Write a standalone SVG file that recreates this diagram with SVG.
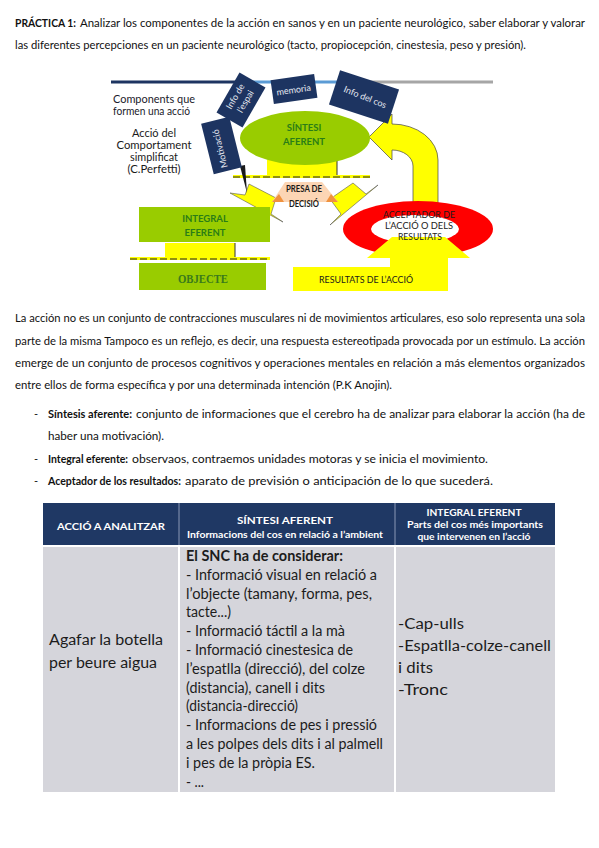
<svg xmlns="http://www.w3.org/2000/svg" width="599" height="848" viewBox="0 0 599 848">
<style>
.p{font-family:Lato,"Liberation Sans",sans-serif;font-size:11px;fill:#111}
.b{font-weight:bold}
.g{font-family:Lato,"Liberation Sans",sans-serif}
.navy{fill:#1d3461}
.nt{font-family:Lato,"Liberation Sans",sans-serif;fill:#e4e7ef;font-size:9px;text-anchor:middle}
.yel{fill:#ffff00}
.grn{fill:#99cc00}
.gt{font-family:Lato,"Liberation Sans",sans-serif;fill:#2a7d17;font-weight:bold;font-size:9.5px;text-anchor:middle}
.dk{font-family:Lato,"Liberation Sans",sans-serif;fill:#1a1a1a;font-size:8.5px;text-anchor:middle}
.th{font-family:Lato,"Liberation Sans",sans-serif;fill:#fff;font-weight:bold;text-anchor:middle}
.tb{font-family:Lato,"Liberation Sans",sans-serif;fill:#1c1c1c;font-size:14.5px}
.cell{fill:#d5d5db}
</style>
<rect width="599" height="848" fill="#fff"/>

<g id="title">
<text class="p b" x="15" y="27" textLength="61" lengthAdjust="spacingAndGlyphs">PRÁCTICA 1:</text>
<text class="p" x="80" y="27" textLength="505" lengthAdjust="spacingAndGlyphs">Analizar los componentes de la acción en sanos y en un paciente neurológico, saber elaborar y valorar</text>
<text class="p" x="15" y="49" textLength="511" lengthAdjust="spacingAndGlyphs">las diferentes percepciones en un paciente neurológico (tacto, propiocepción, cinestesia, peso y presión).</text>
</g>

<g id="topline">
<rect x="111" y="80.5" width="140" height="3" fill="#1d3461"/>
<rect x="251" y="80.5" width="95" height="3" fill="#5b9bd5"/>
<rect x="346" y="80.5" width="147" height="3" fill="#a6a6a6"/>
</g>

<g id="caption">
<text class="g" x="113" y="103" font-size="11.5" fill="#1a1a2a" textLength="82" lengthAdjust="spacingAndGlyphs">Components que</text>
<text class="g" x="113" y="115" font-size="11.5" fill="#1a1a2a" textLength="77" lengthAdjust="spacingAndGlyphs">formen una acció</text>
<g font-size="11" fill="#1a1a1a" text-anchor="middle" class="g">
<text x="154" y="137" textLength="44" lengthAdjust="spacingAndGlyphs">Acció del</text>
<text x="154" y="149" textLength="75" lengthAdjust="spacingAndGlyphs">Comportament</text>
<text x="154" y="161" textLength="48" lengthAdjust="spacingAndGlyphs">simplificat</text>
<text x="154" y="173" textLength="53" lengthAdjust="spacingAndGlyphs">(C.Perfetti)</text>
</g>
</g>

<g id="connectors">
<rect class="yel" x="267" y="160" width="70" height="16"/>
<line x1="337" y1="160" x2="337" y2="176" stroke="#333" stroke-width="1"/>
<line x1="233" y1="176.5" x2="370" y2="176.5" stroke="#ffff00" stroke-width="3"/>
<line x1="233" y1="177" x2="370" y2="177" stroke="#222" stroke-width="1.2" stroke-dasharray="7 3"/>
<polygon class="yel" points="230,193 245,195 249,184 276,198 271,214 283,222" stroke="#555" stroke-width="0.6"/>
<polygon class="yel" points="378,185 366,194 353,183 330,199 341,214 330,225" stroke="#555" stroke-width="0.6"/>
<rect class="yel" x="165" y="243" width="70" height="16"/>
<line x1="235" y1="243" x2="235" y2="259" stroke="#333" stroke-width="1"/>
<line x1="130" y1="258.5" x2="270" y2="258.5" stroke="#ffff00" stroke-width="3"/>
<line x1="130" y1="259" x2="270" y2="259" stroke="#222" stroke-width="1.2" stroke-dasharray="7 3"/>
<path class="yel" d="M413,206 L413,166 A21,16 0 0 0 392,150 L392,160 L369,137 L392,114 L392,124 A46,36 0 0 1 438,160 L438,206 Z" stroke="#444" stroke-width="0.7"/>
</g>

<g id="motivacio">
<polygon points="240,166 247,193 245,165" fill="#1a1a1a"/>
<rect class="navy" x="-26" y="-14.5" width="52" height="29" transform="translate(221.5,145.5) rotate(-104)"/>
<text class="nt" transform="translate(223,148) rotate(-104)">Motivació</text>
</g>
<g id="info-espai">
<rect class="navy" x="-23" y="-15" width="46" height="30" transform="translate(241,100) rotate(-60)"/>
<text class="nt" transform="translate(238,98) rotate(-60)">Info de</text>
<text class="nt" transform="translate(248,103) rotate(-60)">l’espai</text>
</g>
<g id="memoria">
<rect class="navy" x="-22" y="-12" width="44" height="24" transform="translate(294,89) rotate(-8)"/>
<text class="nt" font-size="10" transform="translate(294,93) rotate(-8)">memoria</text>
</g>
<g id="info-cos">
<rect class="navy" x="-31" y="-18" width="62" height="36" transform="translate(364,97) rotate(18)"/>
<text class="nt" font-size="9.5" transform="translate(364,100) rotate(22)">Info del cos</text>
</g>

<g id="sintesi">
<ellipse class="grn" cx="305" cy="138" rx="65" ry="27"/>
<text class="gt" x="304" y="131">SÍNTESI</text>
<text class="gt" x="304" y="145">AFERENT</text>
</g>

<g id="presa">
<polygon points="285,182 322,182 338,202 272,202" fill="#fcd5b4"/>
<polygon points="272,202 279,194 284,202" fill="#f0923e"/>
<polygon points="338,202 331,194 326,202" fill="#f0923e"/>
<text class="dk b" x="304" y="192" font-size="8" textLength="36" lengthAdjust="spacingAndGlyphs">PRESA DE</text>
<text class="dk b" x="304" y="207" font-size="8" textLength="30" lengthAdjust="spacingAndGlyphs">DECISIÓ</text>
</g>

<g id="integral">
<rect class="grn" x="139" y="207" width="131" height="35"/>
<text class="gt" x="205" y="222">INTEGRAL</text>
<text class="gt" x="205" y="236">EFERENT</text>
</g>

<g id="objecte">
<rect class="grn" x="139" y="263" width="127" height="27"/>
<text x="203" y="283" font-family="'Liberation Serif',serif" font-weight="bold" font-size="11.5" fill="#3a7a1c" text-anchor="middle" textLength="50" lengthAdjust="spacingAndGlyphs">OBJECTE</text>
</g>

<g id="acceptador">
<ellipse cx="418" cy="229" rx="75" ry="28" fill="#ff0000"/>
<ellipse cx="415" cy="229" rx="44" ry="14" fill="#fff"/>
</g>

<g id="resultats">
<path class="yel" d="M293,267 L390,267 L390,258 L367,258 L392,237 L445,237 L470,258 L448,258 L448,291 L293,291 Z"/>
<text class="dk" x="366" y="283" textLength="94" lengthAdjust="spacingAndGlyphs">RESULTATS DE L’ACCIÓ</text>
</g>
<g id="acceptador-label">
<text class="dk" x="419" y="218" textLength="72" lengthAdjust="spacingAndGlyphs">ACCEPTADOR DE</text>
<text class="dk" x="419" y="229" textLength="68" lengthAdjust="spacingAndGlyphs">L’ACCIÓ O DELS</text>
<text class="dk" x="420" y="240" textLength="44" lengthAdjust="spacingAndGlyphs">RESULTATS</text>
</g>

<g id="paragraph">
<text class="p" x="15" y="322" textLength="570" lengthAdjust="spacingAndGlyphs">La acción no es un conjunto de contracciones musculares ni de movimientos articulares, eso solo representa una sola</text>
<text class="p" x="15" y="345" textLength="570" lengthAdjust="spacingAndGlyphs">parte de la misma Tampoco es un reflejo, es decir, una respuesta estereotipada provocada por un estímulo. La acción</text>
<text class="p" x="15" y="367" textLength="570" lengthAdjust="spacingAndGlyphs">emerge de un conjunto de procesos cognitivos y operaciones mentales en relación a más elementos organizados</text>
<text class="p" x="15" y="389" textLength="377" lengthAdjust="spacingAndGlyphs">entre ellos de forma específica y por una determinada intención (P.K Anojin).</text>
</g>

<g id="bullets">
<text class="p" x="34" y="418">-</text>
<text class="p b" x="48" y="418" textLength="84" lengthAdjust="spacingAndGlyphs">Síntesis aferente:</text>
<text class="p" x="136" y="418" textLength="449" lengthAdjust="spacingAndGlyphs">conjunto de informaciones que el cerebro ha de analizar para elaborar la acción (ha de</text>
<text class="p" x="48" y="440" textLength="116" lengthAdjust="spacingAndGlyphs">haber una motivación).</text>
<text class="p" x="34" y="463">-</text>
<text class="p b" x="48" y="463" textLength="80" lengthAdjust="spacingAndGlyphs">Integral eferente:</text>
<text class="p" x="132" y="463" textLength="356" lengthAdjust="spacingAndGlyphs">observaos, contraemos unidades motoras y se inicia el movimiento.</text>
<text class="p" x="34" y="485">-</text>
<text class="p b" x="48" y="485" textLength="133" lengthAdjust="spacingAndGlyphs">Aceptador de los resultados:</text>
<text class="p" x="185" y="485" textLength="308" lengthAdjust="spacingAndGlyphs">aparato de previsión o anticipación de lo que sucederá.</text>
</g>

<g id="table">
<rect x="43" y="503" width="512" height="42" fill="#1f3864"/>
<line x1="179" y1="503" x2="179" y2="545" stroke="#8a97b5" stroke-width="1"/>
<line x1="395" y1="503" x2="395" y2="545" stroke="#8a97b5" stroke-width="1"/>
<rect class="cell" x="43" y="547" width="135" height="245"/>
<rect class="cell" x="180" y="547" width="214" height="245"/>
<rect class="cell" x="396" y="547" width="159" height="245"/>

<text class="th" x="111" y="530" font-size="10" textLength="108" lengthAdjust="spacingAndGlyphs">ACCIÓ A ANALITZAR</text>
<text class="th" x="285" y="524" font-size="10" textLength="96" lengthAdjust="spacingAndGlyphs">SÍNTESI AFERENT</text>
<text class="th" x="285" y="538" font-size="9" textLength="196" lengthAdjust="spacingAndGlyphs">Informacions del cos en relació a l’ambient</text>
<text class="th" x="474" y="516" font-size="10" textLength="95" lengthAdjust="spacingAndGlyphs">INTEGRAL EFERENT</text>
<text class="th" x="475" y="528" font-size="9" textLength="136" lengthAdjust="spacingAndGlyphs">Parts del cos més importants</text>
<text class="th" x="474" y="540" font-size="9" textLength="113" lengthAdjust="spacingAndGlyphs">que intervenen en l’acció</text>

<text class="tb" x="49" y="645" font-size="17" textLength="114" lengthAdjust="spacingAndGlyphs">Agafar la botella</text>
<text class="tb" x="49" y="668" font-size="17" textLength="108" lengthAdjust="spacingAndGlyphs">per beure aigua</text>

<text class="tb b" x="186" y="561" textLength="157" lengthAdjust="spacingAndGlyphs">El SNC ha de considerar:</text>
<text class="tb" x="186" y="580" textLength="191" lengthAdjust="spacingAndGlyphs">- Informació visual en relació a</text>
<text class="tb" x="186" y="599" textLength="186" lengthAdjust="spacingAndGlyphs">l’objecte (tamany, forma, pes,</text>
<text class="tb" x="186" y="617" textLength="45" lengthAdjust="spacingAndGlyphs">tacte...)</text>
<text class="tb" x="186" y="636" textLength="159" lengthAdjust="spacingAndGlyphs">- Informació táctil a la mà</text>
<text class="tb" x="186" y="655" textLength="167" lengthAdjust="spacingAndGlyphs">- Informació cinestesica de</text>
<text class="tb" x="186" y="674" textLength="179" lengthAdjust="spacingAndGlyphs">l’espatlla (direcció), del colze</text>
<text class="tb" x="186" y="693" textLength="139" lengthAdjust="spacingAndGlyphs">(distancia), canell i dits</text>
<text class="tb" x="186" y="711" textLength="112" lengthAdjust="spacingAndGlyphs">(distancia-direcció)</text>
<text class="tb" x="186" y="730" textLength="191" lengthAdjust="spacingAndGlyphs">- Informacions de pes i pressió</text>
<text class="tb" x="186" y="749" textLength="197" lengthAdjust="spacingAndGlyphs">a les polpes dels dits i al palmell</text>
<text class="tb" x="186" y="768" textLength="129" lengthAdjust="spacingAndGlyphs">i pes de la pròpia ES.</text>
<text class="tb" x="186" y="787" textLength="18" lengthAdjust="spacingAndGlyphs">- ...</text>

<text class="tb" x="398" y="629" font-size="18" textLength="66" lengthAdjust="spacingAndGlyphs">-Cap-ulls</text>
<text class="tb" x="398" y="651" font-size="18" textLength="153" lengthAdjust="spacingAndGlyphs">-Espatlla-colze-canell</text>
<text class="tb" x="398" y="673" font-size="18" textLength="35" lengthAdjust="spacingAndGlyphs">i dits</text>
<text class="tb" x="398" y="695" font-size="18" textLength="50" lengthAdjust="spacingAndGlyphs">-Tronc</text>
</g>
</svg>
